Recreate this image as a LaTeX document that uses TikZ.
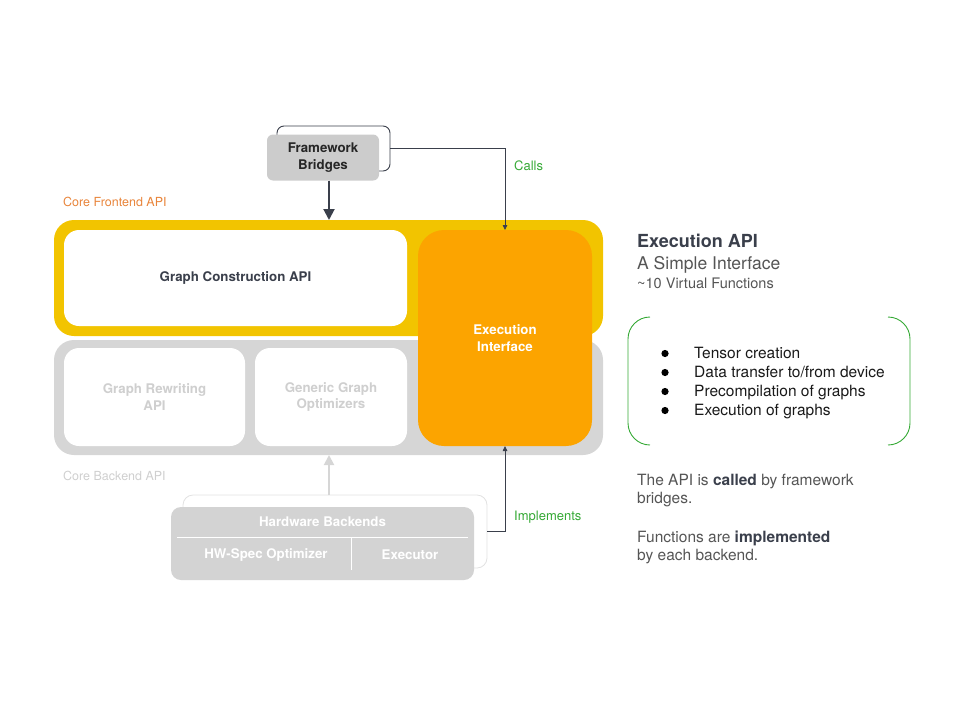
\documentclass[tikz,border=0pt]{standalone}
\usepackage{fontspec}
\setmainfont{TeX Gyre Heros}
\usetikzlibrary{arrows.meta}
\definecolor{ylw}{HTML}{F2C400}
\definecolor{org}{HTML}{FCA400}
\definecolor{gbg}{HTML}{D6D6D6}
\definecolor{dark}{HTML}{3A3F4B}
\definecolor{grn}{HTML}{35A935}
\definecolor{ltxt}{HTML}{CFCFCF}
\definecolor{mtxt}{HTML}{555555}
\definecolor{otxt}{HTML}{E8843A}
\definecolor{fbg}{HTML}{CCCCCC}
\definecolor{hwg}{HTML}{D3D3D3}
\begin{document}
\begin{tikzpicture}[x=1pt,y=-1pt,
  panel/.style={inner sep=0pt, outer sep=0pt, draw=none, rectangle},
  bl/.style={font=\fontsize{13.3}{16.5}\selectfont\bfseries, align=center},
  small/.style={font=\fontsize{12.5}{15}\selectfont, anchor=base west, inner sep=0pt},
  side/.style={anchor=base west, inner sep=0pt, text=mtxt, font=\fontsize{15.5}{18}\selectfont},
]
\useasboundingbox (0,0) rectangle (960,720);
% frontend and backend panels
\node[panel, fill=ylw, rounded corners=20, minimum width=549, minimum height=116] (front) at (328.5,278) {};
\node[panel, fill=gbg, rounded corners=20, minimum width=549, minimum height=115] (back) at (328.5,397.5) {};
\node[panel, fill=white, rounded corners=15, minimum width=343, minimum height=96, bl, text=dark] (gc) at (235.5,278) {Graph Construction API};
\node[panel, fill=white, rounded corners=15, minimum width=181, minimum height=98, bl, text=ltxt] (gr) at (154.5,397) {Graph Rewriting\\API};
\node[panel, fill=white, rounded corners=15, minimum width=152, minimum height=98, bl, text=ltxt] (gg) at (331,397) {Generic Graph\\Optimizers};
\node[panel, fill=org, rounded corners=26, minimum width=174, minimum height=216, bl, text=white] (ei) at (505,338) {Execution\\Interface};
\node[small, text=otxt] (cfl) at (63,206.5) {Core Frontend API};
\node[small, text=ltxt] (cbl) at (63,480.5) {Core Backend API};
% framework bridges
\node[panel, draw=dark, line width=0.9pt, rounded corners=7, minimum width=113, minimum height=45] (fbback) at (333.5,148.5) {};
\node[panel, fill=fbg, rounded corners=6, minimum width=112, minimum height=46, bl, text=black!85] (fb) at (323,157.5) {Framework\\Bridges};
\draw[dark, line width=2pt, -{Triangle[length=11pt,width=11pt]}] ([xshift=6]fb.south) -- ([xshift=6]fb.south |- front.north);
\draw[dark, line width=0.8pt, -{Triangle[length=5pt,width=4.5pt]}] (fbback.east) -| (ei.north);
\node[small, text=grn, font=\fontsize{13}{15}\selectfont] (calls) at (514,170.5) {Calls};
% hardware backends
\node[panel, draw=gbg!70, line width=0.8pt, fill=white, rounded corners=10, minimum width=304, minimum height=73] (hwback) at (335,531.5) {};
\node[panel, fill=hwg, rounded corners=10, minimum width=303, minimum height=73] (hw) at (322.5,543.5) {};
\node[bl, text=white] (hwt) at (322.5,521.5) {Hardware Backends};
\draw[white, line width=0.8pt] ([xshift=6]hw.west |- 0,537) -- ([xshift=-6]hw.east |- 0,537);
\draw[white, line width=0.8pt] (351,537) -- (351,570);
\node[bl, text=white] (hwo) at (266,555) {HW-Spec Optimizer};
\node[bl, text=white] (hwe) at (410,555) {Executor};
\draw[gbg, line width=2pt, -{Triangle[length=10pt,width=10pt]}] ([xshift=-6]hwback.north) -- ([xshift=-6]hwback.north |- back.south);
\draw[dark, line width=0.8pt, -{Triangle[length=5pt,width=4.5pt]}] (hwback.east) -| (ei.south);
\node[small, text=grn, font=\fontsize{13}{15}\selectfont] (impl) at (514,520.5) {Implements};
% right side
\node[anchor=base west, inner sep=0pt, text=dark, font=\fontsize{18}{21}\selectfont\bfseries] (t1) at (637,247.5) {Execution API};
\node[anchor=base west, inner sep=0pt, text=mtxt, font=\fontsize{17.5}{20}\selectfont] (t2) at (637,269) {A Simple Interface};
\node[anchor=base west, inner sep=0pt, text=mtxt, font=\fontsize{14.5}{17}\selectfont] (t3) at (637,288.5) {\char"007E{}10 Virtual Functions};
\draw[grn, line width=0.9pt, rounded corners=22] (650,317) -- (628,317) -- (628,445) -- (650,445);
\draw[grn, line width=0.9pt, rounded corners=22] (888,317) -- (910,317) -- (910,445) -- (888,445);
\foreach \yy/\tx [count=\i] in {358.5/Tensor creation, 377.5/Data transfer to\slash from device, 396.5/Precompilation of graphs, 415.5/Execution of graphs}{
  \fill[black] (665,\yy-5) circle (3.6);
  \node[anchor=base west, inner sep=0pt, text=black!90, font=\fontsize{15.5}{18}\selectfont] (b\i) at (694,\yy) {\tx};
}
\node[side] (p1) at (637,485.5) {The API is \textcolor{dark}{\bfseries called} by framework};
\node[side] (p2) at (637,503.5) {bridges.};
\node[side] (p3) at (637,542.5) {Functions are \textcolor{dark}{\bfseries implemented}};
\node[side] (p4) at (637,560.5) {by each backend.};
\end{tikzpicture}
\end{document}
